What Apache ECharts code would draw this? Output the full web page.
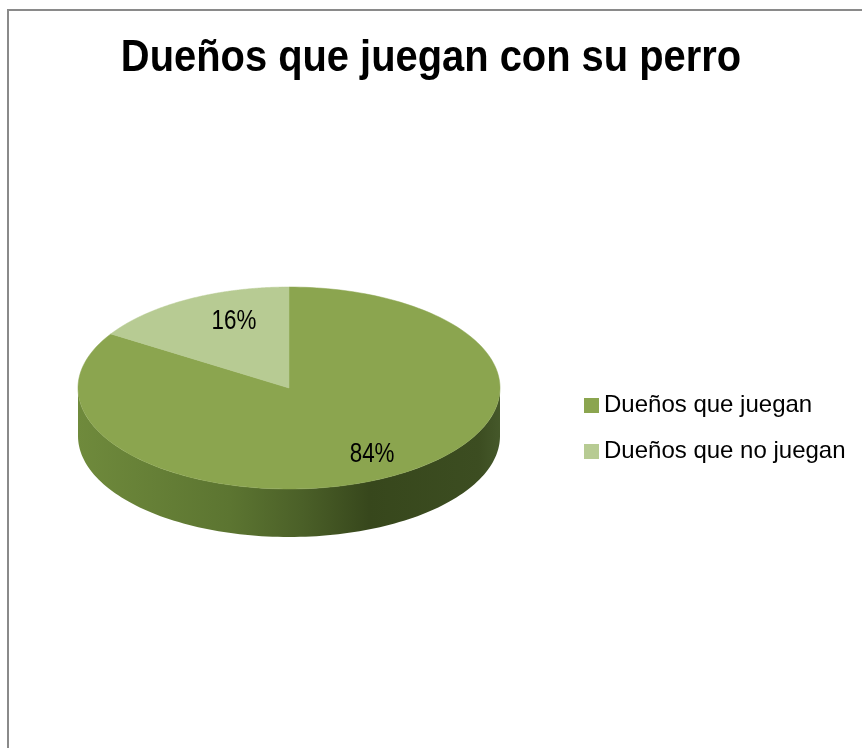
<!DOCTYPE html>
<html>
<head>
<meta charset="utf-8">
<script src="https://cdn.jsdelivr.net/npm/echarts@6/dist/echarts.min.js"></script>
<style>html,body{margin:0;padding:0;background:#fff}#c{width:862px;height:748px}</style>
</head>
<body>
<div id="c"></div>
<script>
const chartTitle = 'Dueños que juegan con su perro';
const categories = ['Dueños que juegan', 'Dueños que no juegan'];
const values = [84, 16];
const sliceColors = ['#8ba54f', '#b7cb93'];

const total = values.reduce((a, b) => a + b, 0);
const G = { cx: 289, cy: 388, rx: 211, ry: 101, depth: 48 };

function makeRender(idx) {
  return function (params, api) {
    const v = api.value(0);
    let cum = 0;
    for (let k = 0; k < idx; k++) cum += values[k];
    const a0 = -Math.PI / 2 + 2 * Math.PI * cum / total;
    const a1 = a0 + 2 * Math.PI * v / total;
    const pt = (t, dy) => [G.cx + G.rx * Math.cos(t), G.cy + G.ry * Math.sin(t) + (dy || 0)];
    const children = [];
    const s = Math.max(a0, 0), e = Math.min(a1, Math.PI);
    if (e > s) {
      const pts = [];
      const n = 120;
      for (let i = 0; i <= n; i++) pts.push(pt(s + (e - s) * i / n));
      for (let i = n; i >= 0; i--) pts.push(pt(s + (e - s) * i / n, G.depth));
      children.push({
        type: 'polygon', shape: { points: pts },
        style: {
          fill: new echarts.graphic.LinearGradient(G.cx - G.rx, 0, G.cx + G.rx, 0, [
            { offset: 0, color: '#6f8a3c' },
            { offset: 0.36, color: '#5c7531' },
            { offset: 0.53, color: '#4b6028' },
            { offset: 0.69, color: '#37471c' },
            { offset: 0.95, color: '#3c4d21' },
            { offset: 1, color: '#45582a' }
          ], true)
        }
      });
    }
    const top = [[G.cx, G.cy]];
    const m = 200;
    for (let i = 0; i <= m; i++) top.push(pt(a0 + (a1 - a0) * i / m));
    children.push({ type: 'polygon', shape: { points: top }, style: { fill: sliceColors[idx], stroke: sliceColors[idx], lineWidth: 0.5 } });
    const mid = (a0 + a1) / 2;
    children.push({
      type: 'text',
      x: G.cx + 0.68 * G.rx * Math.cos(mid) + 14,
      y: G.cy + 0.75 * G.ry * Math.sin(mid),
      scaleX: 0.8,
      style: {
        text: Math.round(v / total * 100) + '%',
        x: 0, y: 0,
        align: 'center', verticalAlign: 'middle',
        font: '28px "Liberation Sans", sans-serif',
        fill: '#000'
      }
    });
    return { type: 'group', children };
  };
}

const chart = echarts.init(document.getElementById('c'), null, { renderer: 'canvas' });
chart.setOption({
  animation: false,
  backgroundColor: '#fff',
  legend: {
    orient: 'vertical', left: 579, top: 388.5,
    data: categories, icon: 'rect', itemWidth: 15, itemHeight: 15, itemGap: 22,
    textStyle: { fontFamily: '"Liberation Sans", sans-serif', fontSize: 24, color: '#000', lineHeight: 24 }
  },
  graphic: [
    { type: 'rect', shape: { x: 8, y: 10, width: 900, height: 800 }, style: { fill: 'none', stroke: '#8a8a8a', lineWidth: 2 }, silent: true },
    { type: 'text', x: 431, y: 59, scaleX: 0.886, silent: true,
      style: { text: chartTitle, x: 0, y: 0, align: 'center', verticalAlign: 'middle', font: 'bold 45px "Liberation Sans", sans-serif', fill: '#000' } }
  ],
  series: categories.map((name, i) => ({
    type: 'custom', name: name, coordinateSystem: 'none',
    itemStyle: { color: sliceColors[i] },
    data: [values[i]],
    renderItem: makeRender(i)
  }))
});
</script>
</body>
</html>
